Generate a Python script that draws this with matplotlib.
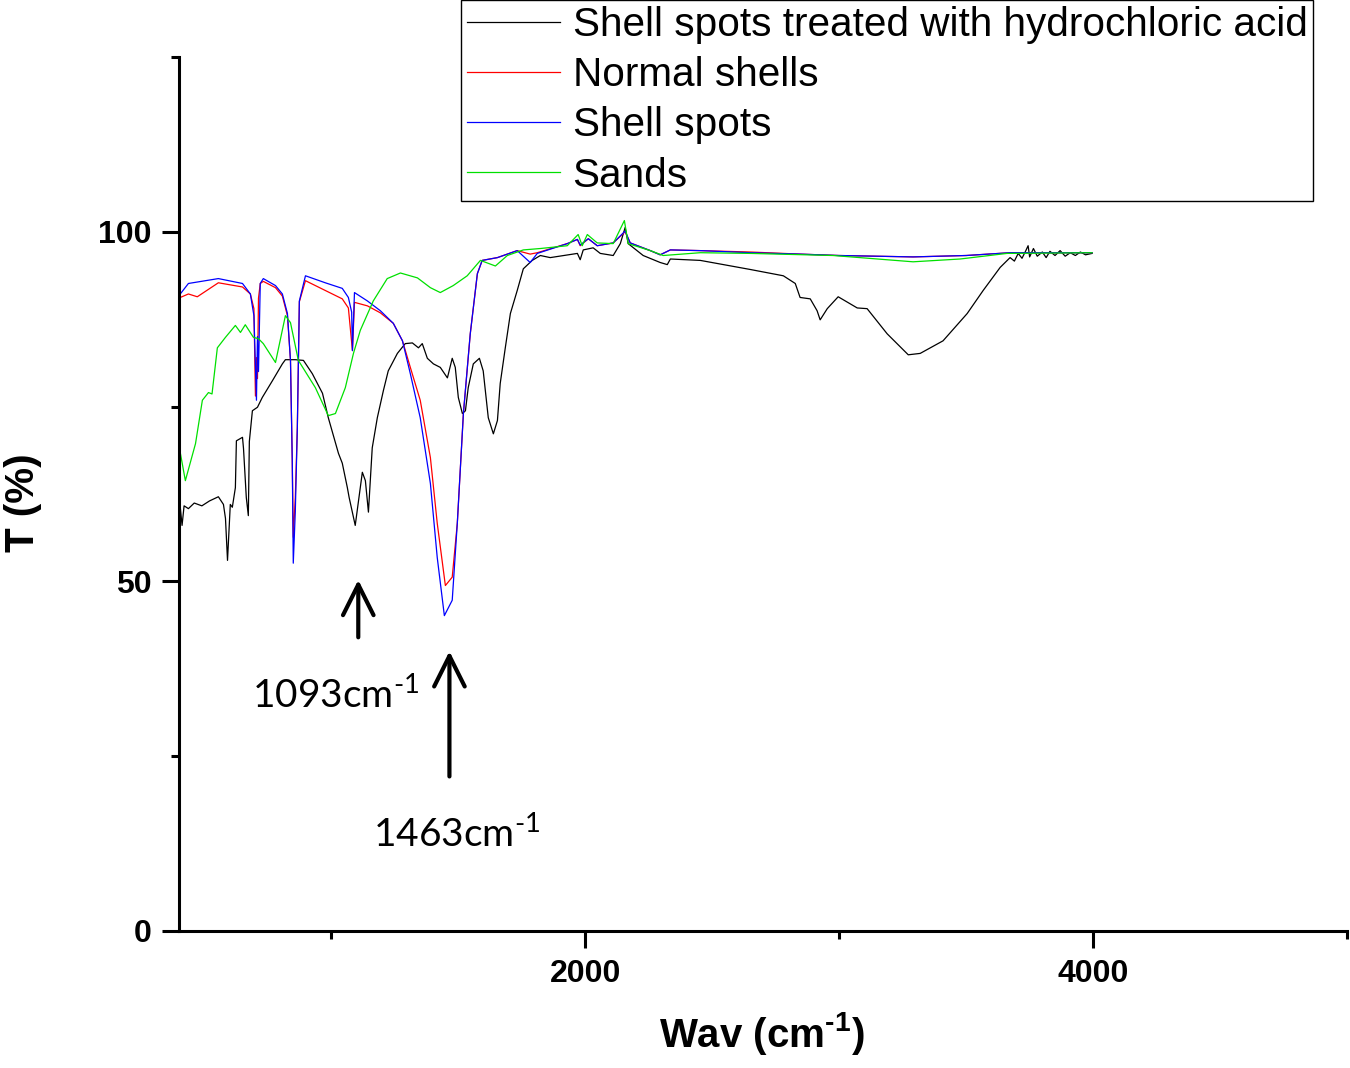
import matplotlib
matplotlib.use("Agg")
import matplotlib.pyplot as plt
from matplotlib.ticker import MultipleLocator, FixedLocator

plt.rcParams['font.family'] = ['Liberation Sans', 'DejaVu Sans']
plt.rcParams['mathtext.default'] = 'regular'

# FTIR spectra, wavenumber (cm-1) vs transmittance (%)
treated_wn = [405, 412, 420, 437, 460, 490, 520, 555, 575, 583, 591, 602, 610, 622, 626,
              650, 654, 665, 673, 677, 689, 709, 728, 768, 807, 819, 858, 890, 925, 965,
              988, 1028, 1043, 1063, 1070, 1094, 1122, 1134, 1146, 1161, 1181, 1205, 1224,
              1260, 1291, 1319, 1343, 1358, 1378, 1402, 1429, 1457, 1476, 1488, 1500, 1516,
              1528, 1539, 1559, 1583, 1598, 1618, 1638, 1654, 1665, 1685, 1705, 1732, 1756,
              1791, 1823, 1862, 1969, 1980, 1992, 2031, 2059, 2110, 2138, 2157, 2169, 2228,
              2295, 2323, 2335, 2453, 2650, 2780, 2827, 2846, 2886, 2913, 2925, 2953, 2996,
              3071, 3110, 3189, 3272, 3319, 3409, 3504, 3567, 3634, 3673, 3690, 3705, 3720,
              3735, 3744, 3750, 3765, 3780, 3800, 3815, 3830, 3850, 3870, 3890, 3910, 3930,
              3950, 3970, 3996]
treated_t = [60.6, 58.0, 60.8, 60.4, 61.2, 60.8, 61.5, 62.1, 61.0, 59.0, 53.0, 61.0, 60.6, 63.4, 70.1,
             70.6, 69.0, 62.0, 59.4, 70.0, 74.4, 74.9, 76.3, 78.7, 81.1, 81.7, 81.7, 81.6, 79.7, 76.9,
             73.4, 68.3, 66.9, 63.4, 62.0, 58.0, 65.6, 64.4, 59.9, 69.1, 73.4, 77.3, 80.1,
             82.6, 84.0, 84.1, 83.4, 84.0, 81.9, 81.1, 80.6, 79.1, 81.9, 80.6, 76.3, 74.0,
             74.4, 77.7, 81.1, 81.9, 80.1, 73.4, 71.1, 73.0, 78.3, 83.4, 88.3, 91.6, 94.7,
             95.9, 96.6, 96.3, 96.9, 96.0, 97.4, 97.7, 96.9, 96.6, 98.3, 100.6, 98.3, 96.6,
             95.6, 95.3, 96.1, 95.9, 94.6, 93.7, 92.6, 90.6, 90.4, 88.7, 87.4, 89.0, 90.7,
             89.1, 89.0, 85.4, 82.4, 82.6, 84.4, 88.3, 91.6, 94.9, 96.3, 95.8, 96.9, 96.2,
             97.3, 98.0, 96.4, 97.6, 96.5, 97.1, 96.3, 97.2, 96.6, 97.3, 96.5, 97.0, 96.6,
             97.1, 96.7, 96.9]

normal_wn = [405, 437, 472, 555, 650, 681, 695, 701, 705, 709, 713, 720, 732, 780, 807,
             827, 839, 846, 850, 858, 866, 874, 898, 976, 1043, 1067, 1083, 1091, 1142,
             1193, 1244, 1280, 1311, 1350, 1390, 1417, 1449, 1476, 1496, 1520, 1547, 1575,
             1594, 1654, 1732, 1783, 1811, 1929, 1969, 1980, 2012, 2047, 2110, 2157, 2177,
             2256, 2295, 2335, 2453, 2650, 2846, 3000, 3291, 3500, 3673, 3996]
normal_t = [90.6, 91.1, 90.7, 92.7, 92.1, 91.1, 89.0, 76.5, 82.0, 79.0, 90.5, 92.6, 92.9, 92.0, 90.8,
            88.0, 81.6, 67.3, 56.3, 62.0, 72.0, 90.0, 93.0, 91.6, 90.4, 89.1, 83.0, 89.9, 89.4,
            88.4, 86.9, 84.4, 80.6, 75.9, 67.7, 58.3, 49.4, 50.6, 58.3, 74.0, 85.4, 94.0,
            95.9, 96.3, 97.3, 96.8, 97.0, 98.3, 98.9, 98.0, 99.0, 98.0, 98.4, 100.0, 98.4,
            97.3, 96.7, 97.4, 97.3, 97.1, 96.8, 96.6, 96.4, 96.6, 97.0, 97.0]

spots_wn = [405, 437, 555, 650, 681, 695, 705, 709, 713, 720, 732, 780, 807, 827, 839,
            846, 850, 858, 866, 874, 898, 976, 1043, 1067, 1080, 1083, 1091, 1142, 1193,
            1244, 1280, 1311, 1350, 1390, 1417, 1445, 1476, 1496, 1520, 1547, 1575, 1594,
            1654, 1732, 1783, 1811, 1929, 1969, 1980, 2012, 2047, 2110, 2157, 2177, 2256,
            2295, 2335, 2453, 2650, 2846, 3000, 3291, 3500, 3673, 3996]
spots_t = [91.1, 92.6, 93.3, 92.6, 91.1, 88.0, 75.9, 85.0, 80.0, 92.6, 93.3, 92.3, 91.1, 88.3, 81.6,
           67.3, 52.6, 60.0, 72.0, 90.1, 93.7, 92.7, 91.9, 90.6, 88.5, 83.0, 91.3, 90.1, 88.7,
           86.9, 84.4, 79.7, 73.4, 64.0, 53.4, 45.1, 47.3, 58.3, 74.0, 85.4, 94.0, 95.9,
           96.3, 97.3, 95.6, 96.9, 98.3, 98.9, 98.1, 99.0, 98.0, 98.4, 100.1, 98.4, 97.3,
           96.7, 97.4, 97.3, 97.0, 96.8, 96.6, 96.4, 96.6, 97.0, 97.0]

sands_wn = [405, 425, 465, 492, 516, 530, 551, 583, 622, 642, 661, 693, 713, 732, 780,
            819, 839, 870, 937, 988, 1016, 1055, 1087, 1114, 1165, 1220, 1272, 1339, 1390,
            1429, 1480, 1535, 1587, 1646, 1693, 1756, 1823, 1929, 1972, 1988, 2008, 2047,
            2110, 2154, 2169, 2256, 2307, 2453, 2650, 2976, 3291, 3476, 3661, 3996]
sands_t = [68.4, 64.4, 69.7, 75.9, 77.0, 76.8, 83.4, 84.9, 86.6, 85.6, 86.7, 84.9, 84.7, 84.0, 81.3,
           88.0, 87.0, 81.6, 77.7, 73.7, 74.0, 77.7, 82.6, 85.9, 90.1, 93.3, 94.1, 93.4, 92.0,
           91.3, 92.3, 93.7, 95.9, 95.1, 96.6, 97.4, 97.6, 98.0, 99.6, 98.0, 99.6, 98.4,
           98.3, 101.6, 98.3, 97.3, 96.6, 97.0, 96.9, 96.6, 95.7, 96.1, 96.9, 97.0]

labels = ["Shell spots treated with hydrochloric acid", "Normal shells", "Shell spots", "Sands"]
colors = ["#000000", "#ff0000", "#0000ff", "#00e000"]

peaks = [1093, 1463]

fig = plt.figure(figsize=(13.5, 10.68), dpi=100)
ax = fig.add_axes([0.1326, 0.1283, 0.8652, 0.8184])

series = [(treated_wn, treated_t), (normal_wn, normal_t), (spots_wn, spots_t), (sands_wn, sands_t)]
handles = []
for (wn, t), lab, c in zip(series, labels, colors):
    h, = ax.plot(wn, t, color=c, lw=0.9, label=lab)
    handles.append(h)

ax.set_xlim(400, 5000)
ax.set_ylim(0, 125)
ax.xaxis.set_major_locator(FixedLocator([2000, 4000]))
ax.xaxis.set_minor_locator(FixedLocator([1000, 3000, 5000]))
ax.yaxis.set_major_locator(MultipleLocator(50))
ax.yaxis.set_minor_locator(MultipleLocator(25))

for s in ['top', 'right']:
    ax.spines[s].set_visible(False)
for s in ['left', 'bottom']:
    ax.spines[s].set_linewidth(2.2)
ax.tick_params(which='major', direction='out', length=12, width=2.2, labelsize=23, pad=8)
ax.tick_params(which='minor', direction='out', length=6, width=2.2)
for lbl in ax.get_xticklabels() + ax.get_yticklabels():
    lbl.set_fontweight('bold')

ax.set_xlabel("Wav (cm$^{\u20101}$)", fontsize=29, fontweight='bold')
ax.set_ylabel("T (%)", fontsize=29, fontweight='bold')
ax.xaxis.set_label_coords(0.499, -0.09)
ax.yaxis.set_label_coords(-0.117, 0.49)

# peak arrows and labels
arrow = dict(arrowstyle='->', lw=3, mutation_scale=55, color='black')
ax.annotate('', xy=(1106, 50.6), xytext=(1106, 41.6), arrowprops=arrow)
ax.annotate('', xy=(1465, 40.4), xytext=(1465, 21.7), arrowprops=arrow)
ax.text(689, 31.9, "%dcm$^{\u20101}$" % peaks[0], fontsize=28, family=['Lato', 'DejaVu Sans'],
        ha='left', va='baseline')
ax.text(1165, 12.0, "%dcm$^{\u20101}$" % peaks[1], fontsize=28, family=['Lato', 'DejaVu Sans'],
        ha='left', va='baseline')

fig.legend(handles, labels, loc='upper left', bbox_to_anchor=(461 / 1350, 1.0),
           fancybox=False, edgecolor='black', framealpha=1, borderpad=0.15,
           borderaxespad=0, labelspacing=0.3, handlelength=2.3, handletextpad=0.3,
           prop={'family': 'Liberation Sans', 'size': 29.2})

fig.savefig("out.png", dpi=100)
